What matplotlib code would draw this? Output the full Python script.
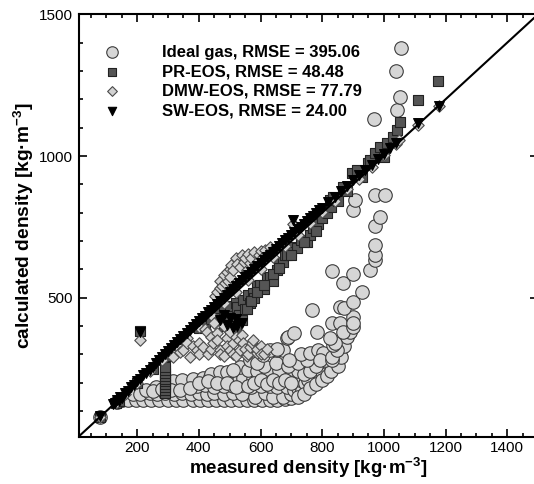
import matplotlib
matplotlib.use("Agg")
import matplotlib.pyplot as plt
import numpy as np
from matplotlib.ticker import MultipleLocator

plt.rcParams["font.family"] = ["Liberation Sans", "DejaVu Sans"]
plt.rcParams["mathtext.fontset"] = "custom"
plt.rcParams["mathtext.rm"] = "Liberation Sans:bold"
plt.rcParams["mathtext.it"] = "Liberation Sans:bold"
plt.rcParams["mathtext.bf"] = "Liberation Sans:bold"

labels = ["Ideal gas, RMSE = 395.06", "PR-EOS, RMSE = 48.48",
          "DMW-EOS, RMSE = 77.79", "SW-EOS, RMSE = 24.00"]

# (measured, calculated)
ideal_gas = [
    (80, 80), (135, 133), (150, 140),
    (170, 140), (195, 138), (220, 140), (245, 138), (270, 140), (300, 138), (325, 140),
    (350, 138), (380, 140), (405, 138), (430, 140), (455, 138), (480, 140), (505, 138),
    (530, 140), (555, 138), (580, 140), (605, 138), (630, 140), (655, 140), (680, 142), (700, 148),
    (185, 160), (210, 162), (240, 165), (265, 160), (290, 165), (320, 162), (345, 165),
    (375, 160), (400, 165), (425, 162), (450, 165), (480, 160), (510, 165), (540, 162),
    (582, 151), (615, 163), (642, 151), (674, 151), (700, 160), (720, 165), (740, 170),
    (230, 175), (260, 185), (300, 190), (330, 185), (362, 192), (395, 188), (420, 192),
    (450, 185), (480, 190), (510, 188), (540, 192), (570, 185), (600, 190), (630, 188),
    (653, 186), (685, 186), (707, 174), (723, 180), (750, 192), (734, 174), (755, 200),
    (317, 205), (345, 210), (380, 215), (414, 217), (437, 220), (470, 212), (500, 215),
    (530, 210), (544, 216), (575, 212), (609, 233), (647, 221), (696, 227), (728, 210),
    (744, 198), (766, 221), (783, 221), (755, 210),
    (440, 232), (470, 238), (491, 238), (533, 256), (510, 245), (560, 245), (590, 240),
    (620, 250), (660, 245), (700, 250), (740, 245), (798, 239), (770, 255), (820, 268), (836, 257),
    (250, 172), (280, 178), (310, 175), (340, 175), (370, 180), (400, 200), (430, 205),
    (460, 200), (490, 200), (520, 185), (560, 190), (580, 200), (600, 210), (620, 195),
    (640, 210), (660, 200), (680, 210), (700, 200), (720, 240), (740, 230), (760, 240),
    (720, 150), (740, 160), (760, 180), (780, 195), (800, 210), (815, 225), (830, 240),
    (850, 260), (860, 290), (870, 330), (880, 360), (890, 380), (780, 260), (810, 280),
    (610, 260), (650, 270), (690, 260), (720, 270), (750, 280), (730, 300),
    (566, 280), (589, 270), (609, 298), (653, 315), (631, 315), (674, 315), (693, 280),
    (652, 318), (687, 357), (690, 362), (707, 374), (784, 380), (766, 457), (761, 304),
    (788, 316), (804, 304), (794, 280), (831, 280), (831, 292), (847, 315), (836, 333),
    (842, 339), (825, 357), (831, 410), (858, 410), (869, 380), (901, 398), (901, 433),
    (901, 410), (858, 468), (871, 463), (901, 486), (928, 521), (831, 595), (869, 551),
    (901, 584), (955, 598), (971, 633), (971, 651), (970, 687), (970, 752), (988, 785),
    (900, 810), (907, 845), (971, 862), (1004, 862), (968, 1131), (1042, 1162),
    (1053, 1208), (1040, 1300), (1056, 1380),
]

pr_eos = [
    (80, 80), (130, 130), (140, 135), (200, 200), (250, 248), (300, 296), (350, 345), (209, 382),
    (290, 165), (290, 175), (290, 185), (290, 195), (290, 205), (290, 215), (290, 225),
    (290, 235), (290, 245), (290, 255),
    (400, 395), (420, 410), (440, 425), (460, 445), (470, 430), (480, 460), (490, 420),
    (500, 448), (500, 470), (510, 410), (520, 480), (525, 469), (530, 440), (544, 493),
    (550, 460), (560, 510), (565, 480), (577, 517), (580, 500), (590, 540), (599, 545),
    (610, 530), (620, 570), (631, 574), (640, 560), (653, 598), (660, 620), (673, 627),
    (680, 650), (686, 651), (700, 680), (700, 660), (718, 676), (730, 705), (750, 697),
    (760, 720), (770, 745), (785, 760), (800, 780), (815, 800), (830, 820), (850, 840),
    (460, 420), (480, 400), (500, 395), (520, 395), (540, 420), (555, 460), (570, 490),
    (590, 520), (610, 545), (640, 585), (660, 605), (700, 650), (740, 695), (780, 735),
    (826, 845), (836, 856), (868, 891), (880, 875), (897, 940), (913, 951), (930, 925),
    (949, 975), (955, 986), (971, 1011), (988, 1032), (1000, 995), (1011, 1046),
    (1030, 1068), (1043, 1092), (1052, 1120), (1111, 1198), (1176, 1266),
]

dmw_eos = [
    (80, 80), (130, 130), (160, 160), (200, 200), (240, 240), (280, 280), (320, 318),
    (360, 358), (400, 398), (440, 440), (480, 480), (520, 520), (560, 562), (600, 602),
    (640, 642), (680, 682), (720, 722), (760, 762), (800, 802), (840, 842), (880, 882),
    (920, 920), (960, 962), (1000, 1002), (1040, 1042), (1050, 1055), (1110, 1110), (1178, 1178),
    (209, 352), (706, 760),
    (453, 505), (460, 520), (469, 533), (470, 560), (475, 540), (485, 551), (480, 580),
    (490, 590), (495, 560), (500, 600), (501, 572), (505, 615), (511, 597), (520, 640),
    (525, 620), (533, 607), (540, 650), (545, 625), (550, 640), (556, 597), (560, 655),
    (566, 621), (570, 640), (580, 660), (589, 625), (595, 650), (600, 665), (608, 642),
    (615, 670), (624, 656), (630, 680), (640, 670), (654, 677),
    (317, 292), (330, 330), (340, 310), (350, 315), (360, 340), (371, 292), (380, 330),
    (393, 315), (400, 300), (400, 340), (415, 327), (420, 390), (426, 380), (430, 300),
    (440, 320), (440, 360), (447, 339), (450, 410), (458, 374), (460, 350), (469, 315),
    (470, 300), (480, 295), (480, 400), (490, 357), (490, 330), (500, 380), (501, 315),
    (510, 340), (510, 300), (520, 295), (520, 360), (530, 350), (534, 315), (540, 370),
    (544, 339), (550, 320), (555, 295), (560, 300), (566, 327), (574, 339), (577, 351),
    (588, 304), (590, 320), (600, 330), (600, 300), (610, 300), (620, 320),
]

sw_eos = [
    (80, 82), (120, 125), (128, 130), (135, 138), (140, 136), (145, 150), (150, 148),
    (160, 163), (170, 172), (180, 185), (190, 192), (200, 205), (210, 214), (220, 226),
    (230, 236), (240, 246), (250, 257), (260, 268), (270, 279), (280, 290), (290, 300),
    (300, 312), (310, 322), (320, 333), (330, 344), (340, 354), (350, 365), (360, 375),
    (370, 386), (380, 396), (390, 406), (400, 417), (410, 427), (420, 437), (430, 448),
    (440, 458), (450, 468), (460, 478), (470, 489), (480, 499), (490, 510), (500, 520),
    (510, 530), (520, 541), (530, 551), (540, 561), (550, 572), (560, 582), (570, 592),
    (580, 602), (590, 612), (600, 622), (610, 632), (620, 642), (630, 652), (640, 662),
    (650, 672), (660, 682), (670, 692), (680, 702), (690, 712), (700, 722), (710, 731),
    (720, 741), (730, 751), (740, 761), (750, 771), (760, 780), (770, 790), (780, 800),
    (790, 809), (800, 818), (820, 838), (840, 857), (860, 876), (880, 895), (900, 914),
    (920, 933), (940, 952), (960, 970), (980, 989), (1000, 1008), (1020, 1027),
    (1040, 1046), (1110, 1115), (1178, 1175), (209, 380), (706, 775),
    (470, 420), (490, 405), (510, 395), (525, 400), (540, 410), (500, 430), (480, 440), (520, 425),
]

fig = plt.figure(figsize=(5.34, 4.84), dpi=100)
ax = fig.add_axes([0.1472, 0.0979, 0.8603, 0.8725])

series = [
    (ideal_gas, "o", 95, "#d6d6d6", "#3c3c3c"),
    (pr_eos, "s", 46, "#555555", "#222222"),
    (dmw_eos, "D", 34, "#d2d2d2", "#4a4a4a"),
    (sw_eos, "v", 50, "#000000", "#000000"),
]
for (pts, mk, s, fc, ec), lab in zip(series, labels):
    arr = np.array(pts)
    ax.scatter(arr[:, 0], arr[:, 1], marker=mk, s=s, facecolor=fc,
               edgecolor=ec, linewidth=0.8, label=lab, zorder=2)

ax.plot([0, 1500], [0, 1500], color="black", lw=1.5, zorder=3)

ax.set_xlim(10, 1500)
ax.set_ylim(10, 1500)
ax.xaxis.set_major_locator(MultipleLocator(200))
ax.xaxis.set_minor_locator(MultipleLocator(50))
ax.yaxis.set_major_locator(MultipleLocator(500))
ax.yaxis.set_minor_locator(MultipleLocator(100))
ax.tick_params(which="both", direction="in", top=True, right=True, width=1.2)
ax.tick_params(which="major", length=6, labelsize=11)
ax.tick_params(which="minor", length=3)
ax.tick_params(axis="y", pad=4)
ax.tick_params(axis="x", pad=3)
for sp in ax.spines.values():
    sp.set_linewidth(1.5)

ax.set_xlabel("measured density [kg·m$^{-3}$]", fontsize=13.5, fontweight="bold", labelpad=1)
ax.set_ylabel("calculated density [kg·m$^{-3}$]", fontsize=13.8, fontweight="bold", labelpad=2)

ax.legend(loc="upper left", bbox_to_anchor=(0.036, 0.928), frameon=False,
          scatterpoints=1, markerscale=0.85, handlelength=2, handletextpad=2.0,
          borderpad=0, borderaxespad=0, labelspacing=0.27,
          prop={"weight": "bold", "size": 12})

fig.savefig("out.png", dpi=100)
